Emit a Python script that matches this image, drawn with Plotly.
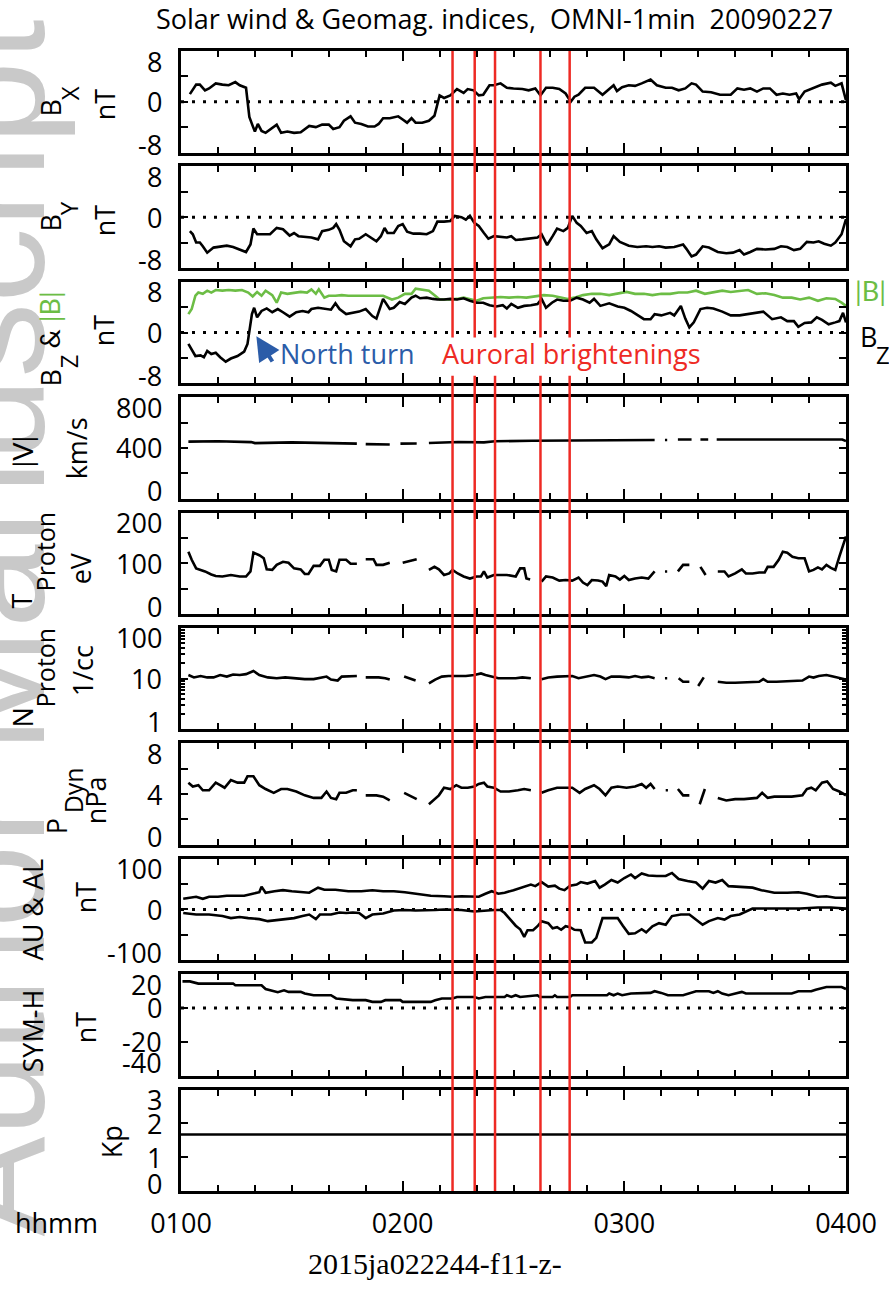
import math
import plotly.graph_objects as go

# ------------------------------------------------------------------
# DATA  (time = minutes after 01:00 UT, 2009-02-27)
# ------------------------------------------------------------------
hour_ticks = [0, 60, 120, 180]
hour_labels = ["0100", "0200", "0300", "0400"]
event_times = [73.5, 79.5, 85.0, 97.3, 105.2]   # auroral brightenings

bx_t = [2.4,4.1,5.1,6.5,7.6,9.4,11.2,12.9,14.7,15.9,17.6,18.5,19.4,20,20.8,21.8,22.9,24.4,25.9,27.1,28.8,30.6,32.4,34.7,36.5,38.2,40,41.2,42.9,44.1,45.9,47.1,48.8,50.6,52.4,53.5,54.7,56.5,57.6,58.8,60,61.2,62.4,63.5,65.3,67.1,68.6,69.4,70,71.2,72.9,74.7,76.5,77.6,79.2,80.6,81.8,83.5,84.7,86.5,88.2,90,92.4,94.1,95.9,97.3,98.8,100.6,102.4,104.1,105.5,106.5,107.6,109.4,111.8,114.1,115.9,117.1,118,119.4,121.2,122.9,124.7,127.1,128.8,131.2,132.9,134.7,136.5,138.2,139.4,141.2,143.5,145.9,148.8,150.6,152.4,154.1,155.9,157.6,159.4,161.2,162.9,164.7,166.5,167.3,168.8,171.2,173.5,175.9,177.1,178.8,180]
bx = [1.2,2.7,2.7,1.8,2.1,2.9,2.7,2.6,3.1,2.6,2.2,-2.4,-3.8,-4.7,-3.5,-4.6,-4.9,-4.3,-3.6,-4.9,-4.7,-4.9,-4.8,-3.8,-4.0,-3.6,-3.6,-4.3,-4.0,-3.0,-2.3,-3.3,-3.5,-3.9,-3.9,-3.5,-2.6,-2.6,-2.4,-2.3,-2.8,-3.3,-2.6,-3.3,-3.3,-3.0,-2.2,-0.2,1.0,0.6,1.0,2.0,1.4,2.0,1.8,1.0,1.1,2.6,2.6,2.9,2.2,2.1,2.0,1.8,2.1,1.0,2.2,2.2,2.0,1.3,0.0,0.8,1.1,2.2,2.2,1.1,2.0,2.6,1.7,2.3,2.6,2.5,2.9,3.5,2.6,2.2,2.2,1.8,2.1,2.9,2.7,1.6,1.5,1.1,1.1,2.1,1.9,2.1,1.6,2.1,2.1,1.1,1.3,1.1,1.3,0.4,1.6,2.2,2.7,3.0,2.5,2.9,0.2]

by_t = [2.4,3.2,4.1,5.1,5.9,7.1,8.8,10.6,12.4,14.1,15.9,17.6,18.8,19.6,20.6,22.4,24.1,25.9,27.6,29.4,30.6,31.8,33.5,35.3,37.1,38.2,40,41.2,42,42.9,44.1,45.9,47.1,48.2,50,51.2,52.9,54.1,55.1,55.9,57.6,58.8,60,61.2,62.9,64.7,66.5,68.2,69.4,71.2,72.9,74.1,75.9,77.1,78.2,79.4,80.6,82,83.2,84.7,86.5,88.2,89.4,90.6,92.4,94.1,96.5,97.6,99.1,100.6,101.8,103.5,104.7,105.9,107.1,108.2,109.8,111.2,112.4,114.1,115.9,117.1,118.8,121.2,123.5,125.9,127.6,129.4,131.2,133.5,135.9,136.8,138.2,139.4,141.2,142.9,145.3,147.6,149.4,151.2,152.4,154.1,155.9,158.2,160.6,162.4,164.1,165.9,167.6,169.4,171.2,172.6,174.1,175.9,177.1,178.8,180]
by = [-2.2,-2.7,-4.0,-4.0,-4.6,-5.6,-4.8,-4.7,-4.5,-4.7,-5.1,-5.5,-4.3,-1.8,-2.7,-2.7,-2.7,-1.7,-1.9,-2.9,-2.5,-3.0,-3.1,-3.2,-3.5,-2.2,-2.0,-1.7,-1.1,-2.0,-3.8,-4.6,-3.5,-3.4,-2.7,-3.1,-3.8,-3.0,-1.7,-2.5,-2.5,-1.4,-1.1,-2.3,-2.6,-2.6,-2.7,-2.2,-0.7,-0.7,-0.6,0.2,0.0,-0.4,0.2,-0.9,-1.4,-2.5,-3.4,-3.0,-3.1,-3.2,-3.0,-3.6,-3.5,-3.4,-3.2,-2.7,-4.4,-3.0,-1.8,-2.2,-1.7,0.2,-0.9,-1.4,-2.5,-2.2,-3.5,-4.9,-4.3,-3.0,-3.9,-4.5,-4.7,-4.6,-4.7,-4.6,-4.8,-4.7,-4.3,-5.0,-6.2,-5.9,-4.6,-4.8,-5.5,-5.7,-5.6,-5.2,-5.9,-5.5,-5.0,-5.1,-5.0,-4.6,-4.7,-5.2,-5.0,-3.9,-4.0,-3.8,-4.2,-4.5,-4.0,-2.7,-0.3]

bt_t = [2,2.9,3.9,4.7,5.9,7.1,8.2,9.4,11.2,12.9,14.7,16.5,18.2,19.4,20.6,21.8,22.9,24.7,25.9,27.1,28.8,30.6,32.4,34.1,35.3,36.5,37.3,38.8,40,41.8,43.5,45.3,47.6,50,52.4,54.7,57.1,58.8,60.6,62.4,63.5,65.3,67.1,68.8,70,72.4,74.7,76.5,78.2,80,81.8,84.1,86.5,88.8,91.2,93.5,95.9,98.2,100.6,102.9,104.7,106.5,108.8,111.2,113.5,115.9,118.2,120.6,122.9,125.3,127.6,130,132.4,134.7,137.1,139.4,141.8,144.1,146.5,148.8,151.2,153.5,155.9,158.2,160.6,162.9,165.3,167.6,170,172.4,174.7,177.1,178.8,180]
bt = [2.9,3.7,5.8,6.3,6.1,6.6,6.3,6.7,6.6,6.7,6.6,6.7,6.3,5.7,6.4,5.8,6.6,5.9,4.7,6.3,6.1,6.3,6.4,6.3,6.8,6.1,6.8,5.5,5.8,5.8,5.9,5.8,5.8,5.8,5.9,5.8,5.2,5.5,6.1,6.1,6.9,6.8,6.6,5.8,5.2,5.2,5.3,5.5,5.3,5.0,5.4,5.5,5.6,5.5,5.6,5.5,5.7,5.9,5.8,5.5,5.3,5.5,5.9,6.1,6.1,5.9,6.2,6.4,6.1,6.1,5.9,6.1,6.1,6.3,6.3,6.6,6.1,6.3,6.6,6.4,6.6,6.7,6.1,6.2,5.9,5.5,5.5,5.2,5.5,5.0,5.4,5.3,4.7,4.2]

bz_t = [2,2.9,3.9,5.3,6.2,7.1,8.2,9.4,10.6,12.1,13.5,15.3,17.1,18,18.5,19.2,19.8,20.6,21.8,23.2,24.7,26.2,27.6,29.4,31.2,32.9,34.5,35.3,37.1,38.8,40.6,41.8,42.9,44.7,46.5,48.2,50,51.8,52.9,54.7,56.5,57.6,59.2,60.6,62.4,63.5,64.7,66.5,68.2,69.4,71.2,72.9,74.7,76.5,78.2,80,81.8,83.5,85.3,87.1,88.2,89.4,91.2,92.9,94.7,96.5,97.6,98.8,100.4,101.8,103.5,105.3,107.1,108.8,110.6,111.8,113.5,115.9,118.2,120,121.8,123.5,125.3,127.1,128.2,130,132.4,133.5,135.3,136.5,137.6,138.8,140.6,142.4,144.1,146.5,148.8,151.2,153.5,155.9,157.6,160,162.4,164.1,165.9,167.1,168.8,170.6,172.1,173.5,175.3,177.1,178.2,179.2,180]
bz = [-1.8,-2.6,-3.7,-3.6,-3.9,-2.9,-3.4,-3.2,-3.9,-4.6,-4.1,-3.7,-3.0,-1.8,0.0,2.9,3.9,2.4,3.4,3.8,3.2,3.7,3.2,2.5,3.2,3.4,3.2,3.7,3.9,3.7,3.6,4.6,3.7,2.9,3.1,3.3,3.7,2.6,2.2,5.3,3.7,3.9,4.8,4.5,5.5,5.8,5.4,5.5,5.3,5.2,5.2,5.3,5.2,5.4,5.0,4.7,4.7,4.3,4.1,4.3,3.8,4.5,3.9,4.2,4.3,4.5,5.3,3.9,4.7,5.2,5.0,5.0,5.5,5.2,4.7,5.3,4.2,4.6,4.1,3.9,3.4,2.7,2.1,2.1,2.9,2.7,3.1,2.7,4.2,2.2,0.8,1.6,3.7,3.9,3.8,3.3,2.7,2.7,2.9,3.2,3.3,2.1,2.4,1.8,1.8,0.9,1.5,1.6,2.4,2.0,1.3,1.6,1.8,3.1,1.6]

# plasma data: None marks data gaps
v_t = [2,10,19,20,30,40,47.6,None,50,56.5,None,59.4,63.8,None,67.1,75,82,85,95,110,128.2,None,131,131.6,None,134.5,138.2,None,140.6,142.7,None,145,160,179,180]
v = [450,452,446,438,444,440,434,None,430,427,None,434,435,None,439,447,444,452,457,460,463,None,463,463,None,466,466,None,466,466,None,466,466,466,454]

tp_t = [2,2.9,4.1,5.3,6.5,8.2,9.4,11.2,13.5,15.9,17.6,18.8,19.6,21.2,22.4,23.2,24.7,25.9,27.6,29.1,30.6,32.4,33.5,34.5,35.9,37.6,38.8,40,40.8,42,42.9,44.7,45.9,47.6,None,
        50,52.1,52.9,54.7,56.5,None,60,61.8,63.8,None,
        67.1,68.6,69.8,71.2,72.6,73.5,74.9,76.5,78.2,80,81.2,82,82.9,84.7,86.5,88.2,90.6,91.8,92.9,93.5,94.5,None,
        97.6,98.8,100.6,102.4,104.1,105.9,107.6,108.8,110,111.2,112.9,114.1,115.1,115.9,117.6,118.8,120,121.2,122.9,124.7,126.5,128.2,None,
        131,131.6,None,134.5,135.9,137.6,None,140.6,142,None,
        145.3,147.1,148.2,150,151.8,152.9,154.7,156.5,158,158.8,160.4,161.8,162.9,164.1,165.5,167.1,168.8,170,171.2,172.4,173.5,174.7,175.9,177.1,178.2,180]
tp = [123,107,90,87,84,78,75,74,77,74,74,84,121,116,110,88,87,97,103,101,90,88,79,79,95,95,107,107,87,84,107,107,99,99,None,
      108,108,97,97,101,None,101,105,108,None,
      87,93,88,77,80,87,80,74,70,74,74,84,72,77,77,77,74,90,90,70,68,None,
      64,74,72,66,67,66,72,62,57,67,66,64,55,77,74,68,75,67,70,72,70,84,None,
      84,84,None,84,97,97,None,93,77,None,
      84,84,74,80,88,80,80,82,82,93,93,107,123,121,113,110,110,84,87,92,88,97,91,87,113,153]

np_t = [2,3.5,5.3,7.1,8.8,10.6,12.4,14.1,15.9,17.6,19.6,21.2,23.5,25.9,28.2,30.6,33.5,35.9,37.6,39.4,40.6,42.4,43.5,45.3,47.6,None,
        50,53.5,55.3,56.5,None,60.4,61.8,63.5,None,
        67.1,68.8,70.6,72.4,74.7,77.1,79.4,81.2,82.4,84.1,85.9,88.2,90.6,92.4,94.7,None,
        97.6,99.4,101.8,104.1,105.9,107.6,109.4,111.8,113.5,114.9,116.5,118.8,121.2,122.9,124.7,126.5,128.2,None,
        131,131.6,None,134.7,135.9,137.6,None,140,141.5,None,
        145.3,147.6,150,152.4,154.7,156.5,157.6,158.8,161.2,163.5,165.9,168.2,170,171.2,172.6,174.7,176.5,178.2,180]
np_ = [11.8,10.6,11.3,10.6,10.6,11.8,11.0,12.1,11.8,12.3,14.2,11.8,10.6,10.2,10.6,10.2,9.8,9.8,10.2,11.0,9.6,9.2,11.0,11.0,11.3,None,
       10.6,10.6,10.2,9.6,None,11.0,10.2,9.2,None,
       8.1,9.6,11.0,11.3,11.3,11.3,11.8,12.7,11.8,11.0,10.2,10.2,10.2,10.6,10.2,None,
       9.8,10.6,11.0,11.0,11.3,10.2,11.0,11.8,11.0,9.8,11.0,11.0,10.6,11.3,10.6,11.0,10.2,None,
       10.2,10.2,None,10.2,8.7,8.7,None,7.2,10.6,None,
       8.7,8.3,8.3,8.4,8.7,8.7,9.8,8.7,8.7,8.9,8.9,9.2,11.0,10.5,11.3,11.8,11.0,10.2,9.6]

pd_t = [2,3.2,4.7,5.9,7.6,9.4,10.6,11.8,13.5,15.3,17.1,18,19.6,21.2,22.9,25.1,27.1,28.8,31.2,33.5,35.9,38,39.4,40.6,42,42.9,44.7,46.5,47.6,None,
        50,52.9,54.7,56.5,None,60.4,61.8,63.8,None,
        67.1,68.2,69.8,71.2,72.9,74.5,75.9,77.6,79.4,80.6,82,82.9,84.7,86.5,88.8,91.2,92.9,94.7,None,
        97.6,99.4,101.8,104.1,105.9,107.9,109.4,111.8,113.3,114.9,116.5,118.2,120.6,122.9,124.7,125.9,127.1,128.2,None,
        131.2,131.8,None,134.5,135.9,137.6,None,140.4,141.8,None,
        145.3,147.6,150,152.4,155.9,157.3,158.8,160.6,162.9,165.3,168.2,169.4,170.6,171.8,173.5,174.9,176.5,178.2,180]
pdyn = [4.9,4.6,4.7,4.3,4.3,4.9,4.7,4.5,5.1,4.9,4.9,5.4,5.4,4.7,4.4,4.1,4.4,4.4,4.2,3.9,3.7,3.7,4.2,3.7,3.6,4.1,4.1,4.3,4.3,None,
        3.9,3.9,3.8,3.5,None,4.1,3.9,3.6,None,
        3.2,3.5,3.9,4.5,4.4,4.7,4.5,4.5,4.6,4.8,4.9,4.6,4.5,4.2,4.2,4.3,4.4,4.3,None,
        4.1,4.3,4.5,4.5,4.5,4.1,4.4,4.7,4.4,3.9,4.5,4.6,4.5,4.6,4.8,4.5,4.8,4.4,None,
        4.3,4.3,None,4.4,3.9,3.9,None,3.2,4.4,None,
        3.7,3.5,3.6,3.6,3.7,4.1,3.7,3.8,3.8,3.8,3.9,4.4,4.5,4.3,4.9,5.0,4.4,4.2,3.9]

au_t = [0.6,2.4,4.1,5.9,7.6,10,12.4,14.7,17.1,19.4,21.2,21.8,22.9,25.3,27.6,30,32.4,34.7,37.1,38.8,41.8,45.3,48.8,51.8,54.7,57.6,60.6,64.1,67.6,71.2,73.5,75.9,78.2,80.6,82.4,84.1,85.9,87.6,90,92.4,94.7,95.9,97.6,99.4,101.2,102.4,103.8,105.3,107.1,108.2,110,112.1,113.3,114.7,116.5,118.2,120,121.8,122.9,124.7,126.5,128.8,131.2,132.9,134.7,137.1,139.4,141.2,142.9,144.7,146.5,148.2,151.2,154.7,157.1,160.6,164.1,167.1,169.4,172.4,174.7,177.1,180]
au = [21,23,25,21,25,25,27,27,27,31,34,45,33,36,38,36,34,33,43,39,39,36,36,38,36,36,34,31,27,26,25,26,25,25,31,36,31,33,38,43,49,46,54,45,47,41,38,47,49,54,51,56,43,49,58,53,62,69,62,71,67,66,66,72,60,56,53,41,56,53,58,46,45,43,38,33,33,34,31,25,26,23,23]

al_t = [0.6,4.1,7.6,11.2,13.5,15.9,18.2,21.2,23.5,25.9,28.2,30.6,32.9,34.7,36.5,37.6,40.6,42.9,44.7,46.5,48.2,50,51.8,54.7,57.6,60.6,63.5,66.5,68.8,71.2,73.5,75.9,79.4,81.8,84.7,86.5,87.6,88.8,90.6,91.8,92.9,93.8,95.3,96.5,97.6,99.4,100.6,101.8,102.9,104.1,105.3,106.5,108.2,109.4,111.2,112.4,114.1,115.9,118.2,119.6,121.2,122.9,124.7,125.9,127.6,129.4,131.2,132.9,135.3,137.6,139.4,141.2,142.9,145.3,147.1,148.8,151.2,152.9,154.7,158.2,162.9,167.6,172.4,175.9,180]
al = [-7,-10,-10,-13,-17,-15,-17,-19,-23,-21,-20,-17,-13,-10,-19,-10,-10,-6,-7,-6,-7,-17,-10,-8,-2,-1,-2,-2,-1,0,0,-1,-4,-2,-1,-1,-7,-17,-32,-39,-54,-41,-41,-33,-23,-27,-37,-35,-40,-33,-35,-40,-41,-65,-65,-56,-17,-17,-17,-32,-48,-47,-39,-45,-33,-27,-30,-13,-10,-10,-20,-30,-23,-17,-20,-13,-10,-4,2,2,2,2,4,4,2]

symh_t = [0.4,2.4,4.7,14.1,14.7,21.8,22.9,24.7,26.2,27.9,29.1,32.4,33.5,35.9,40.6,42,46.5,50,51.8,54.1,55.3,59.4,60,67.6,68.8,70.6,73.5,74.7,79.4,80.6,82.4,87.6,88.2,89.4,90.6,91.8,96.5,97.1,100.6,101.2,101.8,105.3,105.9,115.3,115.9,117.1,118.2,119.4,121.8,127.1,128.2,130,131.8,135.9,138.2,139.4,142.9,144.1,145.3,146.5,148.2,150,151.8,152.9,165.3,167.1,170.6,171.8,174.7,178.8,180]
symh = [15.7,15.7,14.4,14.4,13.4,13.4,11.2,10.4,9.3,10.4,9.5,9.5,8.5,7.5,7.5,5.6,4.6,4.6,3.6,3.6,4.6,4.6,3.6,3.6,4.6,5.6,5.6,6.5,6.5,5.6,6.5,6.5,7.5,6.5,7.5,6.5,7.5,6.5,6.5,7.5,6.5,6.5,7.5,7.5,8.5,7.5,8.5,7.5,8.5,8.9,9.9,8.9,7.5,7.5,8.9,9.9,9.9,8.9,9.9,8.5,7.5,8.5,9.5,8.5,8.5,9.9,9.9,10.8,12.4,12.4,11.2]

kp_t = [0, 180]
kp = [1.67, 1.67]

for a, b in [(bx_t, bx), (by_t, by), (bt_t, bt), (bz_t, bz), (v_t, v), (tp_t, tp),
             (np_t, np_), (pd_t, pdyn), (au_t, au), (al_t, al), (symh_t, symh)]:
    assert len(a) == len(b), (len(a), len(b))

# ------------------------------------------------------------------
# LAYOUT HELPERS (pixel geometry of the page)
# ------------------------------------------------------------------
W, H = 889, 1292
ML, MR, MT, MB = 181, 41, 51, 101
PW, PH = W - ML - MR, H - MT - MB
NP = 10
PANEL_H = 101.5
STEP = (PH - PANEL_H) / (NP - 1)

FONT = "Open Sans"
FONT2 = "Lato"          # narrow vertical bars for |B|, |V|
FS = 27
SUBFS = 24
BLACK = "black"
GREEN = "#6cbd45"
BLUE = "#2b5ca8"
RED = "#ee2a24"


def px_x(px):
    return (px - ML) / PW


def px_y(py):
    return (H - MB - py) / PH


def dom(i):
    top = MT + i * STEP
    return [max(0.0, px_y(top + PANEL_H)), min(1.0, px_y(top))]


panels = [
    dict(rng=[-8, 8], ticks=[-8, -4, 0, 4, 8], labels=[8, 0, -8], zero=True),
    dict(rng=[-8, 8], ticks=[-8, -4, 0, 4, 8], labels=[8, 0, -8], zero=True),
    dict(rng=[-8, 8], ticks=[-8, -4, 0, 4, 8], labels=[8, 0, -8], zero=True),
    dict(rng=[0, 800], ticks=[0, 200, 400, 600, 800], labels=[800, 400, 0], zero=False),
    dict(rng=[0, 200], ticks=[0, 50, 100, 150, 200], labels=[200, 100, 0], zero=False),
    dict(rng=[0, 2], ticks=[1, 10, 100], labels=[100, 10, 1], zero=False, log=True),
    dict(rng=[0, 8], ticks=[0, 2, 4, 6, 8], labels=[8, 4, 0], zero=False),
    dict(rng=[-100, 100], ticks=[-100, -50, 0, 50, 100], labels=[100, 0, -100], zero=True),
    dict(rng=[-40, 20], ticks=[-40, -20, 0, 20], labels=[20, 0, -20, -40], zero=True),
    dict(rng=[0, 3], ticks=[0, 1, 2, 3], labels=[3, 2, 1, 0], zero=False),
]

fig = go.Figure()

series = [
    (1, bx_t, bx, BLACK), (2, by_t, by, BLACK), (3, bt_t, bt, GREEN), (3, bz_t, bz, BLACK),
    (4, v_t, v, BLACK), (5, tp_t, tp, BLACK), (6, np_t, np_, BLACK), (7, pd_t, pdyn, BLACK),
    (8, au_t, au, BLACK), (8, al_t, al, BLACK), (9, symh_t, symh, BLACK), (10, kp_t, kp, BLACK),
]

for i, p in enumerate(panels, start=1):
    if p["zero"]:
        fig.add_trace(go.Scatter(x=[0, 180], y=[0, 0], mode="lines",
                                 line=dict(color=BLACK, width=3, dash="3px,8px"),
                                 xaxis=f"x{i}", yaxis=f"y{i}", hoverinfo="skip"))

for i, t, y, c in series:
    fig.add_trace(go.Scatter(x=t, y=y, mode="lines", line=dict(color=c, width=2.6),
                             connectgaps=False, xaxis=f"x{i}", yaxis=f"y{i}"))

layout = dict(width=W, height=H, margin=dict(l=ML, r=MR, t=MT, b=MB),
              paper_bgcolor="white", plot_bgcolor="white", showlegend=False,
              font=dict(family=FONT, size=FS, color=BLACK))

minor_x = [m for m in range(10, 180, 10) if m % 60]
for i, p in enumerate(panels, start=1):
    xa = dict(domain=[0, 1], range=[0, 180], anchor=f"y{i}", showline=True, linewidth=3,
              linecolor=BLACK, mirror="ticks", ticks="inside", tickvals=hour_ticks,
              ticklen=10, tickwidth=2, tickcolor=BLACK, showgrid=False, zeroline=False,
              showticklabels=(i == NP),
              minor=dict(tickmode="array", tickvals=minor_x, ticks="inside", ticklen=6,
                         tickwidth=2, tickcolor=BLACK, showgrid=False))
    if i == NP:
        xa.update(ticktext=hour_labels, tickfont=dict(family=FONT, size=FS),
                  ticklabelstandoff=7)
    else:
        xa.update(matches="x10")
    ya = dict(domain=dom(i - 1), range=p["rng"], anchor=f"x{i}", showline=True, linewidth=3,
              linecolor=BLACK, mirror="ticks", ticks="inside", tickvals=p["ticks"],
              ticklen=7, tickwidth=2, tickcolor=BLACK, showgrid=False, zeroline=False,
              showticklabels=False)
    if p.get("log"):
        ya.update(type="log",
                  minor=dict(tickmode="array",
                             tickvals=[2, 3, 4, 5, 6, 7, 8, 9, 20, 30, 40, 50, 60, 70, 80, 90],
                             ticks="inside", ticklen=4, tickwidth=1.5, tickcolor=BLACK))
    layout["xaxis" if i == 1 else f"xaxis{i}"] = xa
    layout["yaxis" if i == 1 else f"yaxis{i}"] = ya

fig.update_layout(**layout)

ann = []
# watermark (behind the other texts)
ann.append(dict(text="Author Manuscript", textangle=-90, xref="paper", yref="paper",
                x=px_x(-9), y=px_y(628), xanchor="center", yanchor="middle", showarrow=False,
                font=dict(family="Liberation Sans", size=150, color="#c9c9c9")))

# y tick labels
for i, p in enumerate(panels, start=1):
    labs = p["labels"]
    for j, val in enumerate(labs):
        shift = 0
        if j == 0:
            shift = -10
        elif j == len(labs) - 1:
            shift = 13 if i == 9 else 8
        yv = math.log10(val) if p.get("log") else val
        ann.append(dict(text=str(val), xref="paper", yref=f"y{i}", x=px_x(164), y=yv,
                        xanchor="right", yanchor="middle", yshift=shift, showarrow=False,
                        font=dict(family=FONT, size=FS)))

# axis titles (rotated); (text, x-centre px, y-centre px, size, font)
ylabels = [
    ("B", 50, 108, FS, FONT), ("X", 69, 93, SUBFS, FONT), ("nT", 104, 104, FS, FONT),
    ("B", 50, 223, FS, FONT), ("Y", 69, 208, SUBFS, FONT), ("nT", 104, 220, FS, FONT),
    ("B", 50, 378, FS, FONT), ("Z", 69, 361, SUBFS, FONT),
    (f"&amp; <span style='color:{GREEN}'>|B|</span>", 50, 320, FS, FONT2), ("nT", 103, 330, FS, FONT),
    ("|V|", 22, 451, FS, FONT2), ("km/s", 77, 448, FS, FONT),
    ("T", 22, 601, FS, FONT), ("Proton", 45, 551, 25, FONT), ("eV", 80, 568, FS, FONT),
    ("N", 22, 717, FS, FONT), ("Proton", 45, 667, 25, FONT), ("1/cc", 82, 671, FS, FONT),
    ("P", 56, 826, FS, FONT), ("Dyn", 73, 790, 25, FONT), ("nPa", 96, 800, FS, FONT),
    ("AU &amp; AL", 32, 909, FS, FONT), ("nT", 85, 897, FS, FONT),
    ("SYM-H", 32, 1031, FS, FONT), ("nT", 85, 1027, FS, FONT),
    ("Kp", 111, 1142, FS, FONT),
]
for txt, xp, yp, sz, fam in ylabels:
    ann.append(dict(text=txt, textangle=-90, xref="paper", yref="paper", x=px_x(xp),
                    y=px_y(yp), xanchor="center", yanchor="middle", showarrow=False,
                    font=dict(family=fam, size=sz)))

NB = "\u00a0"
ann.append(dict(text=f"Solar wind &amp; Geomag. indices,{NB}{NB}OMNI-1min{NB}{NB}20090227",
                xref="paper", yref="paper", x=px_x(495), y=px_y(18), xanchor="center",
                yanchor="middle", showarrow=False, font=dict(family=FONT, size=FS)))
ann.append(dict(text="hhmm", xref="paper", yref="paper", x=px_x(12), y=px_y(1222),
                xanchor="left", yanchor="middle", showarrow=False, font=dict(family=FONT, size=FS)))
ann.append(dict(text="2015ja022244-f11-z-", xref="paper", yref="paper", x=px_x(436),
                y=px_y(1263), xanchor="center", yanchor="middle", showarrow=False,
                font=dict(family="Liberation Serif", size=30)))

# panel-3 annotations
ann.append(dict(text="North turn", xref="x3", yref="y3", x=26.3, y=-3.3, xanchor="left",
                yanchor="middle", showarrow=False, font=dict(family=FONT, size=FS, color=BLUE)))
ann.append(dict(text="Auroral brightenings", xref="x3", yref="y3", x=70.2, y=-3.3,
                xanchor="left", yanchor="middle", showarrow=False,
                font=dict(family=FONT, size=FS, color=RED)))
ann.append(dict(text="", xref="x3", yref="y3", x=20.4, y=-0.6, axref="x3", ayref="y3",
                ax=25.0, ay=-4.8, showarrow=True, arrowhead=2, arrowsize=1.2, arrowwidth=4,
                arrowcolor=BLUE))
ann.append(dict(text="|B|", xref="paper", yref="paper",
                x=px_x(855), y=px_y(290), xanchor="left", yanchor="middle", showarrow=False,
                font=dict(family=FONT2, size=FS, color=GREEN)))
ann.append(dict(text="B", xref="paper", yref="paper", x=px_x(860), y=px_y(336),
                xanchor="left", yanchor="middle", showarrow=False, font=dict(family=FONT, size=FS)))
ann.append(dict(text="Z", xref="paper", yref="paper", x=px_x(876), y=px_y(354),
                xanchor="left", yanchor="middle", showarrow=False,
                font=dict(family=FONT, size=SUBFS)))

fig.update_layout(annotations=ann)

# red event lines spanning all panels, interrupted behind the panel-3 text
d3 = dom(2)
r3 = panels[2]["rng"]


def p3_paper(val):
    return d3[0] + (val - r3[0]) / (r3[1] - r3[0]) * (d3[1] - d3[0])


gap_lo, gap_hi = p3_paper(-6.8), p3_paper(-0.8)
shapes = []
for t in event_times:
    for y0, y1 in [(0, gap_lo), (gap_hi, 1)]:
        shapes.append(dict(type="line", xref="x", yref="paper", x0=t, x1=t, y0=y0, y1=y1,
                           line=dict(color=RED, width=2.5), layer="above"))
fig.update_layout(shapes=shapes)

fig.write_html("out.html", config={"displayModeBar": False},
               post_script="document.body.style.margin='0px';")
